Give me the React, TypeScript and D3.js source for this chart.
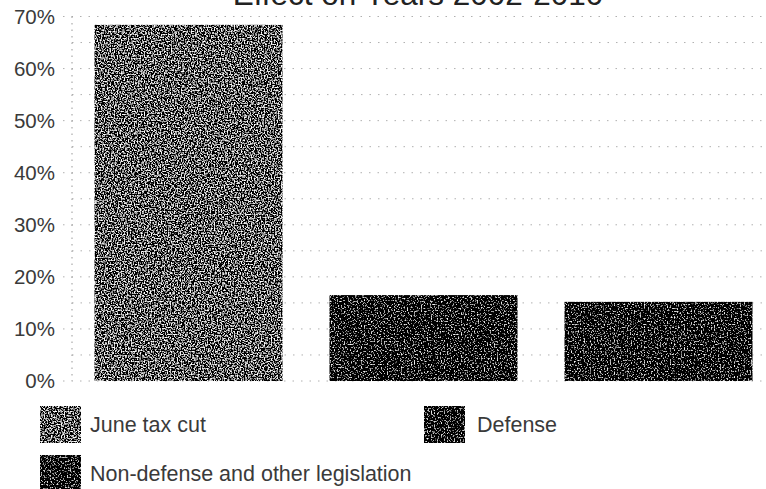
import React from "react";
import * as d3 from "d3";

// Share of the change, by source
const categories = ["June tax cut", "Defense", "Non-defense and other legislation"];
const values = [68.4, 16.5, 15.2];
const yTicks = [0, 10, 20, 30, 40, 50, 60, 70];
const gridSteps = [0, 5, 10, 15, 20, 25, 30, 35, 40, 45, 50, 55, 60, 65, 70];
const title = "Effect on Years 2002-2010";

const W = 766;
const H = 489;
const FONT = "'Liberation Sans', Arial, Helvetica, sans-serif";

// grain filter per category: [gain, offset]
const grain: Record<string, [number, number]> = {
  "June tax cut": [4.4, -2.08],
  Defense: [4.4, -2.45],
  "Non-defense and other legislation": [4.4, -2.45],
};

function filterId(c: string) {
  return "grain-" + categories.indexOf(c);
}

export default function App() {
  const x = d3
    .scaleBand<string>()
    .domain(categories)
    .range([71, 776])
    .paddingInner(0.2)
    .paddingOuter(0.1);
  const y = d3.scaleLinear().domain([0, 70]).range([381, 16.5]);

  const legend = [
    { c: categories[0], sx: 40, sy: 406, tx: 90, ty: 432 },
    { c: categories[1], sx: 424, sy: 406, tx: 477, ty: 432 },
    { c: categories[2], sx: 40, sy: 455, tx: 90, ty: 481 },
  ];

  return (
    <svg
      width={W}
      height={H}
      style={{ position: "absolute", left: 0, top: 0, background: "#fff" }}
      fontFamily={FONT}
    >
      <defs>
        {categories.map((c, i) => {
          const [k, b] = grain[c];
          return (
            <filter
              key={c}
              id={filterId(c)}
              x="0"
              y="0"
              width="100%"
              height="100%"
              filterUnits="objectBoundingBox"
              primitiveUnits="userSpaceOnUse"
            >
              <feTurbulence
                type="fractalNoise"
                baseFrequency="0.7"
                numOctaves={1}
                seed={i * 7 + 3}
                result="noise"
              />
              <feColorMatrix
                in="noise"
                type="matrix"
                values={`${k} 0 0 0 ${b}  ${k} 0 0 0 ${b}  ${k} 0 0 0 ${b}  0 0 0 0 1`}
                result="gray"
              />
              <feComposite in="gray" in2="SourceGraphic" operator="in" />
            </filter>
          );
        })}
      </defs>

      <text x={418} y={5} textAnchor="middle" fontSize={31.5} fill="#222">
        {title}
      </text>

      {/* gridlines */}
      {gridSteps.map((v) => (
        <line
          key={v}
          x1={v % 10 === 0 ? 63 : 72}
          x2={W}
          y1={y(v)}
          y2={y(v)}
          stroke="#b0b0b0"
          strokeWidth={1}
          strokeDasharray="1.5 7"
        />
      ))}
      <line
        x1={72}
        x2={72}
        y1={y(70)}
        y2={y(0)}
        stroke="#999"
        strokeWidth={1}
        strokeDasharray="1.5 5"
      />

      {/* y tick labels */}
      {yTicks.map((v) => (
        <text
          key={v}
          x={55}
          y={y(v)}
          dy="0.36em"
          textAnchor="end"
          fontSize={20.5}
          fill="#3a3a3a"
        >
          {v + "%"}
        </text>
      ))}

      {/* bars */}
      {categories.map((c, i) => (
        <rect
          key={c}
          x={x(c)}
          y={y(values[i])}
          width={x.bandwidth()}
          height={y(0) - y(values[i])}
          fill="#000"
          filter={`url(#${filterId(c)})`}
        />
      ))}

      {/* legend */}
      {legend.map((l) => (
        <g key={l.c}>
          <rect
            x={l.sx}
            y={l.sy}
            width={41}
            height={37}
            fill="#000"
            filter={`url(#${filterId(l.c)})`}
          />
          <text x={l.tx} y={l.ty} fontSize={21.5} fill="#3a3a3a">
            {l.c}
          </text>
        </g>
      ))}
    </svg>
  );
}
